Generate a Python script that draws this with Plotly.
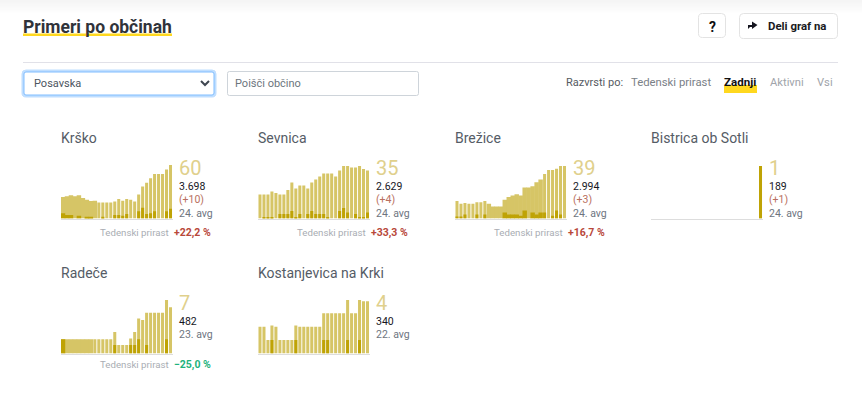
import plotly.graph_objects as go

W, H = 862, 395
FONT = "Roboto"

# ---------- data ----------
names = ["Krško", "Sevnica", "Brežice", "Bistrica ob Sotli", "Radeče", "Kostanjevica na Krki"]
latest = ["60", "35", "39", "1", "7", "4"]
totals = ["3.698", "2.629", "2.994", "189", "482", "340"]
changes = ["(+10)", "(+4)", "(+3)", "(+1)", "", ""]
dates = ["24. avg", "24. avg", "24. avg", "24. avg", "23. avg", "22. avg"]
weekly = ["+22,2 %", "+33,3 %", "+16,7 %", "", "−25,0 %", ""]

krsko_active = [24, 25, 26, 25, 26, 23, 21, 19.5, 20, 18, 18, 18, 18, 19, 22, 20, 22, 21, 19, 27, 36, 40, 45, 50, 50, 50, 55, 60]
krsko_new = [6, 4, 4, 0, 3, 0, 2, 2, 0, 0, 2, 0, 0, 4, 4, 3, 5, 0, 0, 8, 12, 5, 6, 8, 0, 0, 8, 11]
sevnica_active = [16, 16, 16, 18, 17, 16, 16, 19, 24, 20, 22, 22, 20, 24, 26, 28, 30, 30, 30, 28, 32, 35, 35, 34, 34, 35, 33, 32]
sevnica_new = [0, 1, 1, 1, 0, 3, 3, 3, 5, 1, 3, 0, 3, 5, 3, 3, 3, 1, 0, 0, 5, 7, 4, 0, 3, 1, 1, 4]
brezice_active = [13, 11, 11.5, 11, 11, 12, 12, 13, 11, 9, 9, 9, 14, 16, 17, 18, 17, 23, 23, 24, 27, 29, 33, 36, 36, 37, 39, 39]
brezice_new = [1.5, 1.5, 3, 0, 0, 3, 0, 3, 0, 0, 0, 0, 4.5, 3, 3, 3, 2, 6, 0, 4.5, 3, 4.5, 4.5, 0, 2, 6, 3, 0]
bistrica_active = [None] * 27 + [1]
bistrica_new = [0] * 27 + [1]
radece_active = [2, 2, 2, 2, 2, 2, 2, 2, 2, 2, 2, 2, 2, 3, 1.2, 1.2, 1.2, 2.1, 3, 4.9, 4.7, 5.7, 5.7, 5.7, 5.7, 5.7, 7.5, 6.5]
radece_new = [2, 0, 0, 0, 0, 0, 0, 0, 0, 0, 0, 0, 0, 1.2, 0, 0, 0, 1.2, 1.2, 2, 0, 1.2, 0, 0, 0, 0, 2, 0]
kostanjevica_active = [2, 2, 1, 2.1, 2, 1, 1, 1, 1, 2.1, 2, 2, 2, 2, 2, 2, 3, 3, 3, 3, 3, 3, 4, 3, 3, 4, 3.9, 3.9]
kostanjevica_new = [0, 0, 0, 1, 0, 0, 0, 0, 0, 1, 0, 0, 0, 0, 0, 0, 1, 1, 0, 0, 0, 0, 1, 0, 0, 1, 0, 0]

actives = [krsko_active, sevnica_active, brezice_active, bistrica_active, radece_active, kostanjevica_active]
news = [krsko_new, sevnica_new, brezice_new, bistrica_new, radece_new, kostanjevica_new]
days = list(range(28))

# ---------- layout helpers ----------
LIGHT, DARK = "#D6C566", "#BFA305"
px = lambda x: x / W
py = lambda y: 1 - y / H

shapes, annos = [], []

def text(x, y, s, size=11, color="#333", anchor="left", bold=False, font=FONT):
    annos.append(dict(x=px(x), y=py(y), xref="paper", yref="paper", text=f"<b>{s}</b>" if bold else s,
                      showarrow=False, xanchor=anchor, yanchor="middle",
                      font=dict(size=size, color=color, family=font), borderpad=0, borderwidth=0))

def rect(x0, y0, x1, y1, fill, line=None, lw=1):
    shapes.append(dict(type="rect", xref="paper", yref="paper", x0=px(x0), x1=px(x1), y0=py(y0), y1=py(y1),
                       fillcolor=fill, line=dict(color=line or fill, width=lw if line else 0), layer="below"))

def rrect(x0, y0, x1, y1, r, fill, line, lw=1):
    P = lambda a, b: f"{px(a):.5f},{py(b):.5f}"
    d = (f"M{P(x0+r,y0)} L{P(x1-r,y0)} Q{P(x1,y0)} {P(x1,y0+r)} L{P(x1,y1-r)} Q{P(x1,y1)} {P(x1-r,y1)} "
         f"L{P(x0+r,y1)} Q{P(x0,y1)} {P(x0,y1-r)} L{P(x0,y0+r)} Q{P(x0,y0)} {P(x0+r,y0)} Z")
    shapes.append(dict(type="path", xref="paper", yref="paper", path=d, fillcolor=fill,
                       line=dict(color=line, width=lw), layer="below"))

def poly(points, fill=None, line=None, lw=1):
    d = "M" + " L".join(f"{px(a):.5f},{py(b):.5f}" for a, b in points)
    if fill:
        d += " Z"
    shapes.append(dict(type="path", xref="paper", yref="paper", path=d,
                       fillcolor=fill or "rgba(0,0,0,0)", line=dict(color=line or "rgba(0,0,0,0)", width=lw if line else 0)))

# top page shade
for i in range(14):
    g = 245 + int(i * 10 / 13)
    rect(0, i, W, i + 1, f"rgb({g},{g},{g})")

# header
text(23, 26.5, "Primeri po občinah", 17.5, "#30333A", bold=True)
rect(23, 33.5, 172, 36, "#FFD81F")
rect(23, 62, 838, 63, "#E1E1E8")
rrect(698.5, 13.5, 725.5, 37.5, 4, "#fff", "#E3E3E3")
text(712, 26.5, "?", 14, "#111", "center", bold=True)
rrect(739.5, 13.5, 837.5, 38.5, 4, "#fff", "#E3E3E3")
poly([(748, 25), (752, 25), (752, 21.5), (757.5, 25), (752, 29), (752, 27), (750, 27), (748, 29)], fill="#15151F")
text(768, 25.5, "Deli graf na", 11.4, "#1A1A22", bold=True)

# controls
rrect(22, 70, 216, 97, 4, "#BFDEFF", "#BFDEFF")
rrect(24, 72, 214, 95, 2, "#fff", "#80BDFF")
text(34, 83.5, "Posavska", 11, "#4C5560")
poly([(201, 81), (205, 85), (209, 81)], line="#3F4650", lw=2)
rrect(227.5, 71.5, 418.5, 95.5, 2, "#fff", "#CED4DA")
text(235, 83.5, "Poišči občino", 11, "#6C757D")
text(566, 82, "Razvrsti po:", 11, "#555A62")
text(631, 82, "Tedenski prirast", 11.3, "#7A8087")
rect(724, 85, 757, 93, "#FFD81F")
text(724, 82, "Zadnji", 11.6, "#111", bold=True)
text(770, 82, "Aktivni", 11.2, "#A0A4AA")
text(817, 82, "Vsi", 11.2, "#A0A4AA")

# panels
lefts = [61, 258, 455, 651, 61, 258]
bases = [218.5, 218.5, 218.5, 218.5, 353.5, 353.5]
tops = [165, 166, 166, 166, 300, 300]
ymaxes = [60, 35, 39, 1, 7.5, 4]
wk_offs = [13.5, 13.5, 13.5, 13.5, 11, 11]
PW = 111.5
# runs of adjacent days whose bars touch in the reference
merged = [range(0, 9), range(0), range(8, 22), range(0), range(0, 8), range(0)]

fig = go.Figure()
lay = {}
for i in range(6):
    s = "" if i == 0 else str(i + 1)
    xa, ya = f"x{s}", f"y{s}"
    widths = [1.12 if d in merged[i] else 0.76 for d in days]
    fig.add_bar(x=days, y=actives[i], marker=dict(color=LIGHT, line=dict(width=0), opacity=1), width=widths, xaxis=xa, yaxis=ya, showlegend=False)
    fig.add_bar(x=days, y=news[i], marker=dict(color=DARK, line=dict(width=0), opacity=1), width=widths, xaxis=xa, yaxis=ya, showlegend=False)
    L, B, T = lefts[i], bases[i], tops[i]
    lay[f"xaxis{s}"] = dict(domain=[px(L), px(L + PW)], range=[-0.5, 27.5], anchor=ya, showgrid=False, zeroline=False,
                            showticklabels=False, ticks="", showline=True, linecolor="#DDDDDD", linewidth=1, fixedrange=True)
    lay[f"yaxis{s}"] = dict(domain=[py(B), py(T)], range=[0, ymaxes[i]], anchor=xa, showgrid=False, zeroline=False,
                            showticklabels=False, ticks="", showline=False, fixedrange=True)
    nx = L + 118
    text(L, B - 80.5, names[i], 14, "#555C66")
    text(nx, B - 51, latest[i], 20, "#E0D08C")
    text(nx, B - 32.5, totals[i], 10.5, "#16161E")
    if changes[i]:
        text(nx, B - 19, changes[i], 10.5, "#B9705E")
        text(nx, B - 5, dates[i], 10.5, "#6E7580")
    else:
        text(nx, B - 19, dates[i], 10.5, "#6E7580")
    if weekly[i]:
        col = "#1EB27C" if weekly[i].startswith("−") else "#B8483A"
        text(L + 150, B + wk_offs[i], weekly[i], 10.5, col, "right", bold=True)
        text(L + 107.5, B + wk_offs[i], "Tedenski prirast", 9.7, "#A9ADB3", "right")

fig.update_layout(template="none", width=W, height=H, margin=dict(l=0, r=0, t=0, b=0), barmode="overlay",
                  paper_bgcolor="#fff", plot_bgcolor="rgba(0,0,0,0)", shapes=shapes, annotations=annos,
                  **lay)
fig.write_html("out.html", config={"displayModeBar": False},
               post_script="document.body.style.margin='0';document.body.style.overflow='hidden';")
